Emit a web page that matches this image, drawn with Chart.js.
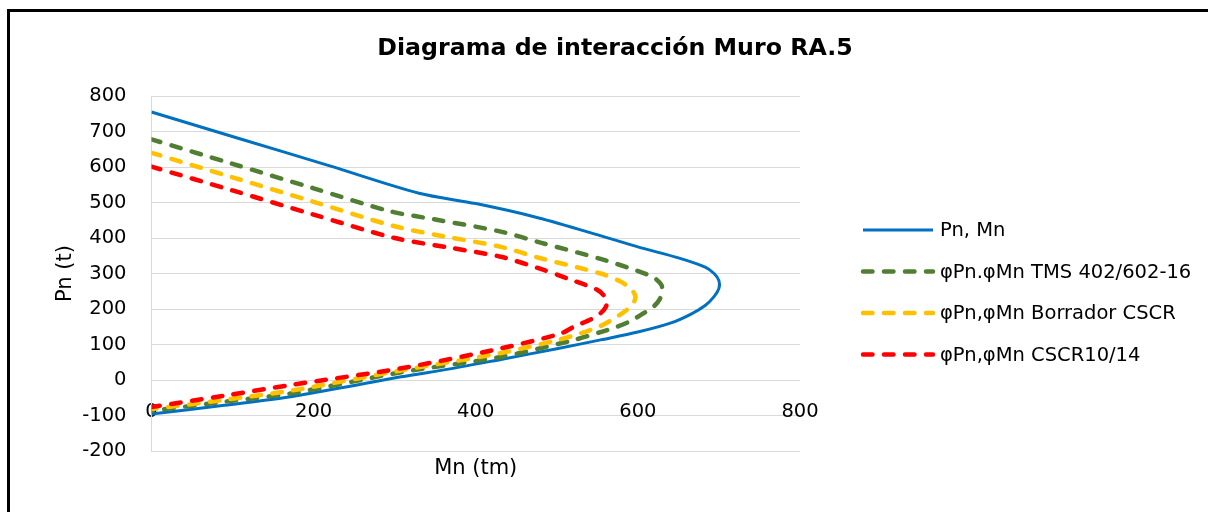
<!DOCTYPE html>
<html>
<head>
<meta charset="utf-8">
<script src="https://cdn.jsdelivr.net/npm/chart.js@4/dist/chart.umd.min.js"></script>
<style>
  html, body { margin: 0; padding: 0; background: #fff; overflow: hidden; }
  #frame { position: absolute; left: 7px; top: 9px; width: 1300px; height: 600px; border: 3px solid #000; box-sizing: border-box; }
  #wrap { position: absolute; left: 0; top: 0; width: 1208px; height: 512px; }
</style>
</head>
<body>
<div id="frame"></div>
<div id="wrap"><canvas id="chart" width="1208" height="512"></canvas></div>
<script>
// Pn, Mn (nominal)
const mnNominal = [0, 110, 220, 330, 400, 472, 540, 603, 650, 683, 694, 700, 700, 694, 683, 665, 640, 600, 554, 500, 431, 370, 308, 258, 172, 90, 0];
const pnNominal = [755, 679, 603, 526, 497, 460, 416, 373, 344, 318, 300, 280, 258, 235, 210, 185, 160, 135, 113, 88, 58, 32, 9, -12, -47, -71, -96];

// φPn.φMn TMS 402/602-16
const mnTms = [0, 100, 200, 295, 348, 431, 480, 554, 600, 620, 629, 630, 627, 620, 607, 590, 572, 554, 520, 431, 308, 172, 90, 0];
const pnTms = [678, 609, 540, 475, 453, 418, 387, 341, 307, 288, 268, 249, 228, 208, 188, 165, 148, 135, 112, 65, 22, -38, -61, -87];

// φPn,φMn Borrador CSCR
const mnBorrador = [0, 100, 200, 300, 360, 431, 480, 554, 578, 592, 597, 594, 585, 572, 554, 530, 500, 431, 308, 172, 90, 0];
const pnBorrador = [640, 571, 502, 433, 405, 375, 343, 300, 278, 255, 235, 215, 195, 175, 152, 132, 112, 76, 27, -30, -56, -82];

// φPn,φMn CSCR10/14
const mnCscr = [0, 100, 200, 300, 370, 431, 480, 513, 550, 558, 562, 560, 554, 543, 521, 505, 431, 308, 172, 90, 0];
const pnCscr = [601, 534, 466, 400, 372, 347, 313, 286, 254, 238, 220, 204, 188, 172, 150, 131, 89, 33, -14, -44, -76];

const seriesLabels = ['Pn, Mn', 'φPn.φMn TMS 402/602-16', 'φPn,φMn Borrador CSCR', 'φPn,φMn CSCR10/14'];
const xTicks = [0, 200, 400, 600, 800];
const yTicks = [-200, -100, 0, 100, 200, 300, 400, 500, 600, 700, 800];

const toPoints = (mn, pn) => mn.map((m, i) => ({ x: m, y: pn[i] }));

const FONT = 'DejaVu Sans';

// title + legend drawn beside the plot
const sideLegend = {
  id: 'sideLegend',
  afterDraw(chart, args, opts) {
    const { ctx, chartArea } = chart;
    ctx.save();
    ctx.fillStyle = '#000';
    ctx.textAlign = 'center';
    ctx.textBaseline = 'middle';
    ctx.font = 'bold 23.7px "' + FONT + '"';
    ctx.fillText(opts.title, 615, 49);

    ctx.textAlign = 'left';
    ctx.font = '19.5px "' + FONT + '"';
    chart.data.datasets.forEach((ds, i) => {
      const x = chartArea.right + 63;
      const y = 230 + i * 41.5;
      ctx.strokeStyle = ds.borderColor;
      ctx.lineWidth = ds.borderWidth;
      ctx.lineCap = ds.borderCapStyle || 'butt';
      ctx.setLineDash(ds.borderDash || []);
      ctx.beginPath();
      ctx.moveTo(x, y);
      ctx.lineTo(x + 70, y);
      ctx.stroke();
      ctx.setLineDash([]);
      ctx.fillText(ds.label, x + 77, y + 1);
    });
    ctx.restore();
  }
};

const dashed = (label, mn, pn, color, order) => ({
  label,
  data: toPoints(mn, pn),
  borderColor: color,
  backgroundColor: color,
  borderWidth: 4.5,
  borderDash: [9.5, 11.5],
  borderCapStyle: 'round',
  order
});

new Chart(document.getElementById('chart'), {
  type: 'scatter',
  data: {
    datasets: [
      {
        label: seriesLabels[0],
        data: toPoints(mnNominal, pnNominal),
        borderColor: '#0070C0',
        backgroundColor: '#0070C0',
        borderWidth: 3,
        order: 4
      },
      dashed(seriesLabels[1], mnTms, pnTms, '#507E32', 3),
      dashed(seriesLabels[2], mnBorrador, pnBorrador, '#FFC000', 2),
      dashed(seriesLabels[3], mnCscr, pnCscr, '#FF0000', 1)
    ]
  },
  options: {
    responsive: false,
    animation: false,
    devicePixelRatio: 1,
    showLine: true,
    elements: {
      point: { radius: 0, hoverRadius: 0 },
      line: { tension: 0.3 }
    },
    layout: { padding: { left: 20, right: 408, top: 96, bottom: 61 } },
    plugins: {
      legend: { display: false },
      title: { display: false },
      tooltip: { enabled: false },
      sideLegend: { title: 'Diagrama de interacción Muro RA.5' }
    },
    scales: {
      x: {
        type: 'linear',
        position: { y: 0 },
        min: 0,
        max: 800,
        afterBuildTicks: (axis) => { axis.ticks = xTicks.map(v => ({ value: v })); },
        grid: { display: false, drawTicks: false },
        border: { display: false },
        ticks: { color: '#000', font: { family: FONT, size: 19.5 }, padding: 20 },
        title: { display: true, text: 'Mn (tm)', color: '#000', font: { family: FONT, size: 21 }, padding: { top: 13, bottom: 0 } }
      },
      y: {
        type: 'linear',
        min: -200,
        max: 800,
        afterBuildTicks: (axis) => { axis.ticks = yTicks.map(v => ({ value: v })); },
        grid: { color: '#d9d9d9', lineWidth: 1, drawTicks: false },
        border: { color: '#d9d9d9', width: 1 },
        ticks: { color: '#000', font: { family: FONT, size: 19.5 }, padding: 25 },
        title: { display: true, text: 'Pn (t)', color: '#000', font: { family: FONT, size: 21 }, padding: { top: 33, bottom: -21 } }
      }
    }
  },
  plugins: [sideLegend]
});
</script>
</body>
</html>
